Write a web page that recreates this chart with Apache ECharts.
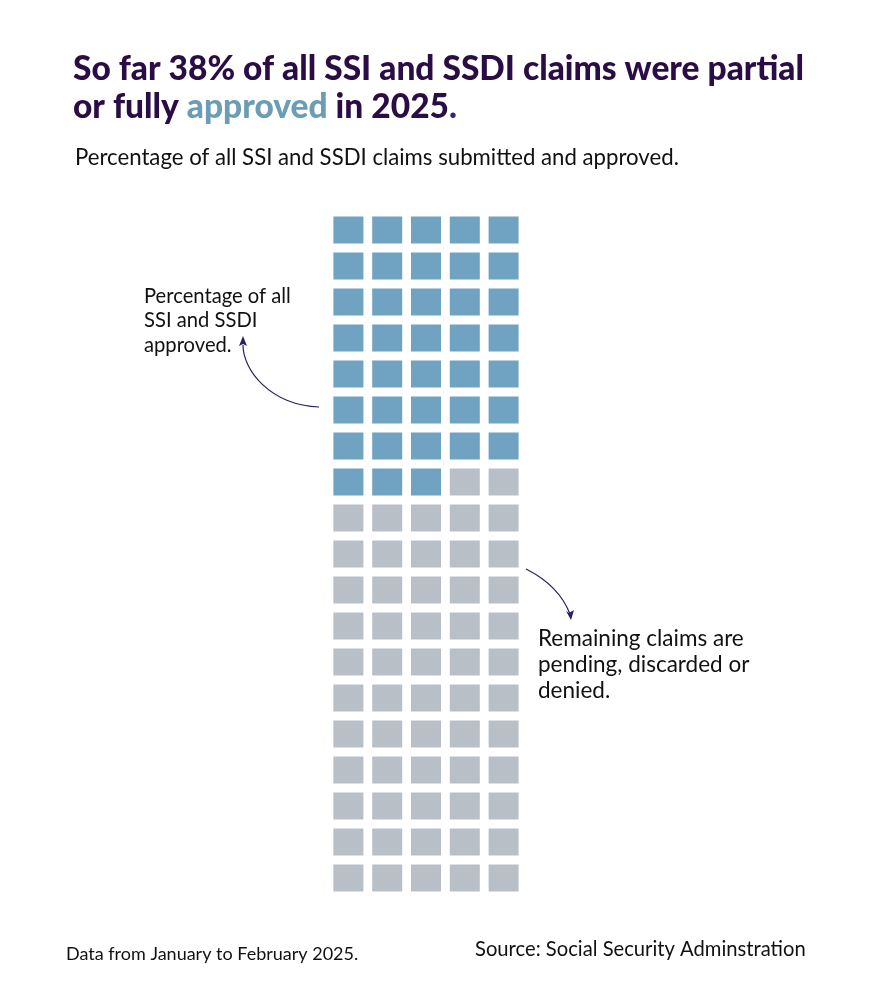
<!DOCTYPE html>
<html>
<head>
<meta charset="utf-8">
<script src="https://cdn.jsdelivr.net/npm/echarts@6/dist/echarts.min.js"></script>
<style>
html,body{margin:0;padding:0;background:#fff;}
#chart{width:870px;height:1002px;}
</style>
</head>
<body>
<div id="chart"></div>
<script>
// ---- data ----
const approvedCount = 38;
const totalCells = 95;
const columns = ['c1','c2','c3','c4','c5'];
const rows = ['r1','r2','r3','r4','r5','r6','r7','r8','r9','r10','r11','r12','r13','r14','r15','r16','r17','r18','r19'];
const seriesNames = ['Approved', 'Remaining'];

const approvedCells = [];
const remainingCells = [];
for (let i = 0; i < totalCells; i++) {
  const cell = [columns[i % columns.length], rows[Math.floor(i / columns.length)]];
  if (i < approvedCount) approvedCells.push(cell); else remainingCells.push(cell);
}

const chart = echarts.init(document.getElementById('chart'));
const font = 'Lato, "Open Sans", sans-serif';
const arrowColor = '#2a1f63';

chart.setOption({
  backgroundColor: '#ffffff',
  animation: false,
  grid: { left: 329, top: 212, width: 194, height: 684 },
  xAxis: { type: 'category', data: columns, show: false },
  yAxis: { type: 'category', data: rows, inverse: true, show: false },
  series: [
    { name: seriesNames[0], type: 'scatter', data: approvedCells, symbol: 'rect', symbolSize: [30, 27],
      itemStyle: { color: '#6fa3c1', opacity: 1 } },
    { name: seriesNames[1], type: 'scatter', data: remainingCells, symbol: 'rect', symbolSize: [30, 27],
      itemStyle: { color: '#b8bfc6', opacity: 1 } }
  ],
  graphic: [
    { type: 'text', left: 73, top: 50, style: {
        text: 'So far 38% of all SSI and SSDI claims were partial\nor fully {a|approved} in 2025{d|.}',
        font: '900 33.5px ' + font, fill: '#2b0d45', lineHeight: 38,
        rich: { a: { fill: '#6b9db5', font: '900 33.5px ' + font }, d: { fill: '#2a2a8a', font: '900 33.5px ' + font } }
    } },
    { type: 'text', left: 75, top: 147, style: {
        text: 'Percentage of all SSI and SSDI claims submitted and approved.',
        font: '22.2px ' + font, fill: '#111' } },
    { type: 'text', left: 144, top: 284, style: {
        text: 'Percentage of all\nSSI and SSDI\napproved.', font: '20.2px ' + font, fill: '#111', lineHeight: 24.5 } },
    { type: 'text', left: 538, top: 626, style: {
        text: 'Remaining claims are\npending, discarded or\ndenied.', font: '22.5px ' + font, fill: '#111', lineHeight: 26 } },
    { type: 'text', left: 66, top: 945, style: {
        text: 'Data from January to February 2025.', font: '18px ' + font, fill: '#111' } },
    { type: 'text', left: 475, top: 939, style: {
        text: 'Source: Social Security Adminstration', font: '20.2px ' + font, fill: '#111' } },
    // left arrow
    { type: 'bezierCurve', shape: { x1: 319, y1: 407, x2: 243, y2: 345, cpx1: 270, cpy1: 405, cpx2: 243, cpy2: 370 },
      style: { stroke: arrowColor, lineWidth: 1.2, fill: null } },
    { type: 'polygon', shape: { points: [[243, 336], [239, 346], [243, 344], [247, 346]] }, style: { fill: arrowColor } },
    // right arrow
    { type: 'bezierCurve', shape: { x1: 526, y1: 569, x2: 570, y2: 614, cpx1: 548, cpy1: 580, cpx2: 563, cpy2: 596 },
      style: { stroke: arrowColor, lineWidth: 1.2, fill: null } },
    { type: 'polygon', shape: { points: [[571, 620], [566, 611], [569, 613], [574, 610]] }, style: { fill: arrowColor } }
  ]
});
</script>
</body>
</html>
